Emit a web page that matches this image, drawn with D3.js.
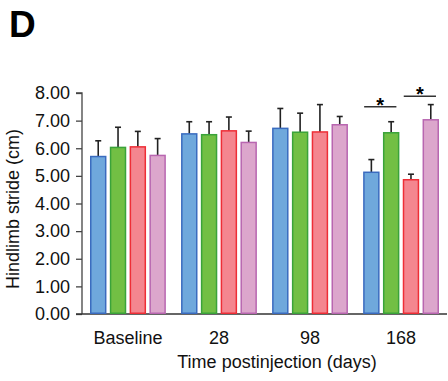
<!DOCTYPE html>
<html><head><meta charset="utf-8">
<script src="https://cdn.jsdelivr.net/npm/d3@7/dist/d3.min.js"></script>
<style>body{margin:0;background:#fff}svg{display:block}text{font-family:"Liberation Sans",Arial,sans-serif}</style>
</head><body>
<svg id="c" width="448" height="381"></svg>
<script>
const categories = ["Baseline", "28", "98", "168"];
const seriesNames = ["S1", "S2", "S3", "S4"];
const means = [
  [5.70, 6.03, 6.05, 5.74],
  [6.52, 6.49, 6.63, 6.21],
  [6.72, 6.58, 6.59, 6.85],
  [5.13, 6.56, 4.86, 7.03]
];
const errTops = [
  [6.27, 6.76, 6.61, 6.35],
  [6.96, 6.96, 7.13, 6.62],
  [7.44, 7.27, 7.58, 7.15],
  [5.59, 6.96, 5.06, 7.58]
];
const yTicks = [0, 1, 2, 3, 4, 5, 6, 7, 8];
const fills = ["#6fa8dc", "#72bf44", "#f4868f", "#dca6cc"];
const strokes = ["#3a6bbf", "#3aa33a", "#ee2e36", "#b866b0"];
// significance: [category, series from, series to, level]
const sigs = [["168", 0, 1, 7.5], ["168", 2, 3, 7.88]];

const svg = d3.select("#c");
const y = d3.scaleLinear().domain([0, 8]).range([314, 93]);
const x0 = d3.scaleBand().domain(categories).range([82, 447]).paddingInner(0.167).paddingOuter(0.088);
const x1 = d3.scaleBand().domain(d3.range(seriesNames.length)).range([0, x0.bandwidth()]).paddingInner(0.17);

// title letter
svg.append("text").attr("x", 9).attr("y", 37).attr("font-size", 37).attr("font-weight", "bold").text("D");

// y axis
const yAxis = svg.append("g").attr("transform", "translate(82,0)")
  .call(d3.axisLeft(y).tickValues(yTicks).tickSize(6).tickPadding(6).tickFormat(d3.format(".2f")));
yAxis.selectAll("path,line").attr("stroke", "#444").attr("stroke-width", 1.3);
yAxis.select(".domain").attr("d", `M-6,${y(8)}H0V${y(0)}`);
yAxis.selectAll("text").attr("font-size", 18).attr("fill", "#111").attr("font-family", "Liberation Sans, Arial, sans-serif");

// x axis
const xAxis = svg.append("g").attr("transform", `translate(0,${y(0)})`)
  .call(d3.axisBottom(x0).tickSize(0).tickPadding(17));
xAxis.select(".domain").attr("d", `M76,0H447`).attr("stroke", "#333").attr("stroke-width", 1.5);
xAxis.selectAll("text").attr("font-size", 18).attr("fill", "#111").attr("font-family", "Liberation Sans, Arial, sans-serif");

// bars
const groups = svg.append("g").selectAll("g").data(categories).join("g")
  .attr("transform", d => `translate(${x0(d)},0)`);
groups.each(function(cat, ci) {
  const g = d3.select(this);
  means[ci].forEach((v, si) => {
    const bx = x1(si), bw = x1.bandwidth(), cx = bx + bw / 2;
    g.append("line").attr("x1", cx).attr("x2", cx).attr("y1", y(v)).attr("y2", y(errTops[ci][si]))
      .attr("stroke", "#222").attr("stroke-width", 1.6);
    g.append("line").attr("x1", cx - 3).attr("x2", cx + 3).attr("y1", y(errTops[ci][si])).attr("y2", y(errTops[ci][si]))
      .attr("stroke", "#222").attr("stroke-width", 1.6);
    g.append("rect").attr("x", bx + 0.75).attr("y", y(v)).attr("width", bw - 1.5).attr("height", y(0) - y(v) - 0.75)
      .attr("fill", fills[si]).attr("stroke", strokes[si]).attr("stroke-width", 1.5);
  });
});

// significance markers
sigs.forEach(([cat, a, b, lvl]) => {
  const xa = x0(cat) + x1(a) + 1, xb = x0(cat) + x1(b) + x1.bandwidth() - 3;
  svg.append("line").attr("x1", xa).attr("x2", xb).attr("y1", y(lvl)).attr("y2", y(lvl))
    .attr("stroke", "#333").attr("stroke-width", 1.5);
  svg.append("text").attr("x", (xa + xb) / 2).attr("y", y(lvl) + 5).attr("text-anchor", "middle")
    .attr("font-size", 20).attr("font-weight", "bold").text("*");
});

// axis titles
svg.append("text").attr("x", 277).attr("y", 368).attr("text-anchor", "middle").attr("font-size", 18).attr("fill", "#111")
  .text("Time postinjection (days)");
svg.append("text").attr("transform", "translate(19,209) rotate(-90)").attr("text-anchor", "middle").attr("font-size", 18)
  .attr("fill", "#111").text("Hindlimb stride (cm)");
</script>
</body></html>
